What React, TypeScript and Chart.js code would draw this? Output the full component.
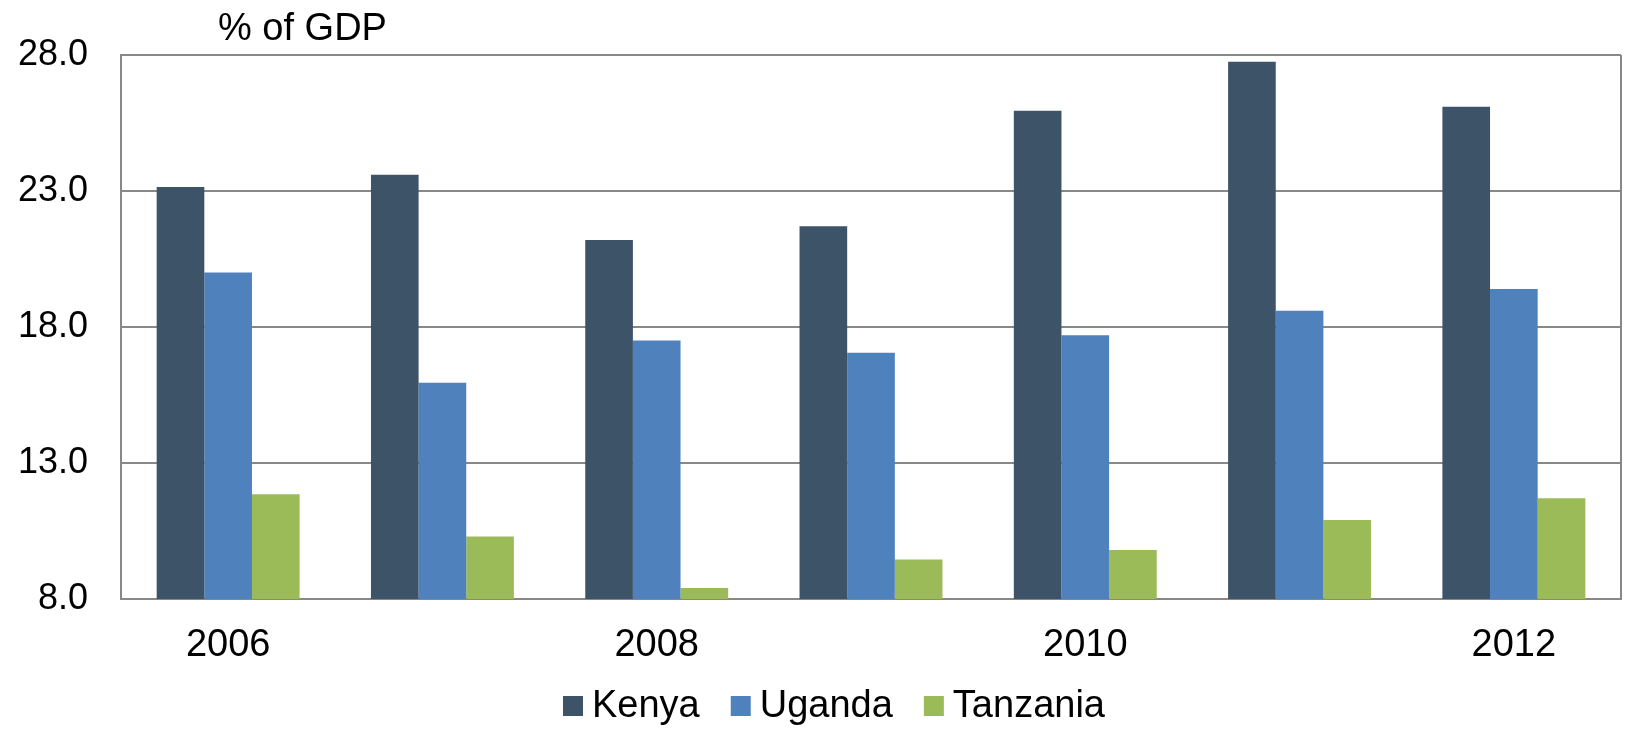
import React, { useEffect, useRef } from "react";
import { Chart, registerables } from "chart.js";

Chart.register(...registerables);

const years = ["2006", "2007", "2008", "2009", "2010", "2011", "2012"];
const shownYearLabels = ["2006", "", "2008", "", "2010", "", "2012"];
const kenya = [23.15, 23.6, 21.2, 21.7, 25.95, 27.75, 26.1];
const uganda = [20.0, 15.95, 17.5, 17.05, 17.7, 18.6, 19.4];
const tanzania = [11.85, 10.3, 8.4, 9.45, 9.8, 10.9, 11.7];
const seriesNames = ["Kenya", "Uganda", "Tanzania"];
const seriesColors = ["#3D5368", "#4F81BD", "#9BBB59"];
const yMin = 8;
const yMax = 28;
const yStep = 5;
const unitTitle = "% of GDP";

const FONT = "'Liberation Sans', Arial, sans-serif";
const GRID = "#888888";

const framePlugin = {
  id: "frame",
  afterDraw(chart: any) {
    const { ctx, chartArea } = chart;
    ctx.save();
    ctx.strokeStyle = GRID;
    ctx.lineWidth = 2;
    ctx.beginPath();
    ctx.moveTo(chartArea.right, chartArea.top);
    ctx.lineTo(chartArea.right, chartArea.bottom);
    ctx.stroke();
    // title
    ctx.fillStyle = "#000";
    ctx.font = `38px ${FONT}`;
    ctx.textAlign = "left";
    ctx.textBaseline = "alphabetic";
    ctx.fillText(unitTitle, chartArea.left + 97, 40);
    // legend
    ctx.font = `38px ${FONT}`;
    ctx.textBaseline = "middle";
    let x = 563;
    const yc = 706;
    chart.data.datasets.forEach((ds: any, i: number) => {
      ctx.fillStyle = ds.backgroundColor;
      ctx.fillRect(x, yc - 10, 20, 20);
      ctx.fillStyle = "#000";
      ctx.fillText(ds.label, x + 29, yc + 1);
      x += 29 + ctx.measureText(ds.label).width + 31;
    });
    ctx.restore();
  },
};

export default function App() {
  const ref = useRef<HTMLCanvasElement | null>(null);
  useEffect(() => {
    document.body.style.margin = "0";
    if (!ref.current) return;
    const chart = new Chart(ref.current, {
      type: "bar",
      data: {
        labels: years,
        datasets: [kenya, uganda, tanzania].map((d, i) => ({
          label: seriesNames[i],
          data: d,
          backgroundColor: seriesColors[i],
          borderWidth: 0,
          categoryPercentage: 0.667,
          barPercentage: 1.0,
        })),
      },
      options: {
        responsive: false,
        animation: false,
        layout: { padding: { top: 55, right: 6, left: 0, bottom: 0 } },
        plugins: { legend: { display: false }, tooltip: { enabled: false } },
        scales: {
          x: {
            grid: { display: false, drawTicks: false },
            border: { display: true, color: GRID, width: 2 },
            ticks: {
              autoSkip: false,
              maxRotation: 0,
              padding: 24,
              color: "#000",
              font: { family: FONT, size: 38 },
              callback: (_v: any, i: number) => shownYearLabels[i],
            },
            afterFit: (s: any) => {
              s.height = 130;
            },
          },
          y: {
            min: yMin,
            max: yMax,
            ticks: {
              stepSize: yStep,
              padding: 33,
              color: "#000",
              font: { family: FONT, size: 36 },
              callback: (v: any) => Number(v).toFixed(1),
            },
            grid: { color: GRID, lineWidth: 2, drawTicks: false },
            border: { color: GRID, width: 2 },
            afterFit: (s: any) => {
              s.width = 121;
            },
          },
        },
      },
      plugins: [framePlugin],
    });
    return () => chart.destroy();
  }, []);
  return (
    <div style={{ width: 1627, height: 729 }}>
      <canvas ref={ref} width={1627} height={729} style={{ display: "block", width: 1627, height: 729 }} />
    </div>
  );
}
